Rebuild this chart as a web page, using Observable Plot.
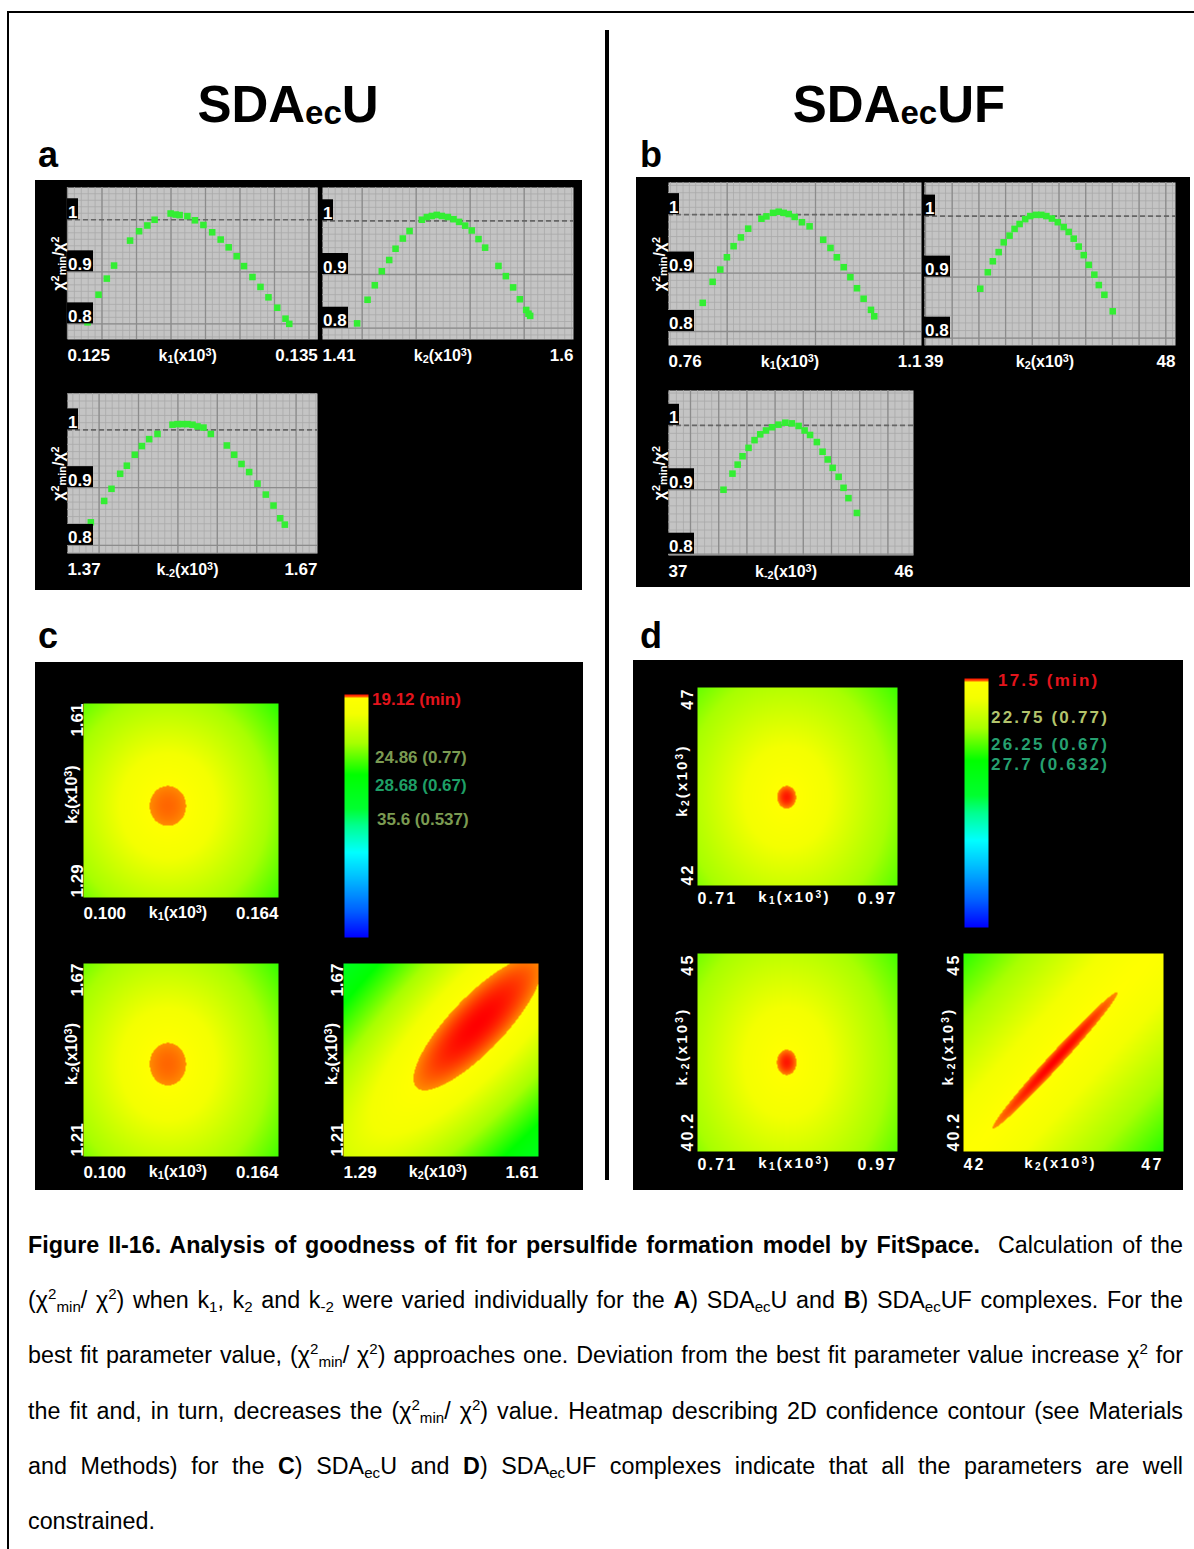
<!DOCTYPE html>
<html>
<head>
<meta charset="utf-8">
<script src="https://cdn.jsdelivr.net/npm/d3@7"></script>
<script src="https://cdn.jsdelivr.net/npm/@observablehq/plot@0.6"></script>
<style>
  html, body { margin: 0; padding: 0; background: #fff; }
  #fig { position: relative; width: 1194px; height: 1549px; overflow: hidden; background: #fff;
         font-family: "Liberation Sans", Arial, Helvetica, sans-serif; }
  .abs { position: absolute; }
  .panel { position: absolute; background: #000; }
  .title { position: absolute; font-weight: bold; font-size: 51px; line-height: 51px; text-align: center; width: 400px; color: #000; }
  .title .ec { font-size: 33px; position: relative; top: 2px; }
  .plabel { position: absolute; font-weight: bold; font-size: 36px; line-height: 36px; color: #000; }
  .cbl { position: absolute; font-weight: bold; font-size: 17px; line-height: 20px; white-space: nowrap; }
  .capline { position: absolute; left: 28px; width: 1155px; height: 55px; font-size: 23.3px; line-height: 55px;
             text-align: justify; text-align-last: justify; color: #000; }
  .capline.last { text-align-last: left; }
  .capline sup, .capline sub { font-size: 0.65em; line-height: 0; }
  .capline sup { vertical-align: 0.6em; }
  .capline sub { vertical-align: -0.25em; }
</style>
</head>
<body>
<div id="fig"></div>
<script>
// ---------------- DATA ----------------
// Panel a (SDAecU): chi2min/chi2 when each rate constant is varied
const aK1X = [0.12580,0.12624,0.12657,0.12686,0.12750,0.12786,0.12819,0.12848,0.12912,0.12932,0.12948,0.12979,0.13009,0.13043,0.13078,0.13112,0.13144,0.13176,0.13205,0.13239,0.13271,0.13303,0.13338,0.13371,0.13386];
const aK1Y = [0.803,0.856,0.887,0.912,0.960,0.978,0.989,1.000,1.012,1.010,1.009,1.007,0.999,0.990,0.976,0.962,0.947,0.930,0.911,0.890,0.871,0.851,0.831,0.810,0.800];
const aK2X = [1.4362,1.4441,1.4496,1.4549,1.4605,1.4653,1.4708,1.4759,1.4852,1.4890,1.4928,1.4965,1.5003,1.5049,1.5092,1.5134,1.5180,1.5230,1.5281,1.5331,1.5432,1.5488,1.5543,1.5594,1.5642,1.5659,1.5672];
const aK2Y = [0.809,0.853,0.880,0.906,0.927,0.948,0.967,0.981,1.002,1.007,1.009,1.011,1.009,1.007,1.003,0.998,0.991,0.982,0.966,0.950,0.916,0.897,0.876,0.854,0.834,0.827,0.823];
const aKm2X = [1.398,1.414,1.4228,1.4332,1.4412,1.4508,1.4592,1.468,1.478,1.496,1.502,1.508,1.514,1.520,1.526,1.5332,1.542,1.5612,1.570,1.5788,1.588,1.598,1.608,1.6172,1.6252,1.6308];
const aKm2Y = [0.840,0.877,0.898,0.924,0.938,0.957,0.972,0.984,0.993,1.009,1.010,1.010,1.010,1.009,1.006,1.004,0.993,0.973,0.957,0.941,0.927,0.907,0.888,0.869,0.847,0.836];
// Panel b (SDAecUF)
const bK1X = [0.8060,0.8193,0.8296,0.8385,0.8475,0.8573,0.8671,0.8849,0.8916,0.9005,0.9081,0.9148,0.9215,0.9295,0.9393,0.9496,0.9679,0.9777,0.9862,0.9955,1.0044,1.0133,1.0222,1.0321,1.0365];
const bK1Y = [0.849,0.885,0.906,0.927,0.946,0.961,0.976,0.993,0.997,1.003,1.005,1.003,1.001,0.996,0.987,0.980,0.957,0.943,0.927,0.910,0.893,0.874,0.856,0.837,0.826];
const bK2X = [41.00,41.27,41.45,41.66,41.84,42.05,42.23,42.41,42.61,42.79,43.00,43.19,43.37,43.57,43.78,43.99,44.17,44.35,44.53,44.71,44.89,45.09,45.25,45.45,45.75];
const bK2Y = [0.881,0.908,0.926,0.941,0.957,0.968,0.979,0.987,0.995,1.000,1.002,1.002,1.000,0.996,0.990,0.982,0.974,0.963,0.950,0.936,0.920,0.904,0.887,0.871,0.844];
const bKm2X = [39.02,39.35,39.54,39.72,39.94,40.16,40.37,40.58,40.80,41.04,41.29,41.53,41.78,42.00,42.20,42.45,42.66,42.85,43.03,43.25,43.43,43.61,43.92];
const bKm2Y = [0.900,0.925,0.939,0.952,0.965,0.977,0.986,0.992,0.997,1.001,1.004,1.003,0.999,0.992,0.985,0.974,0.959,0.947,0.934,0.920,0.903,0.887,0.864];

const aTickX = [["0.125","0.135"],["1.41","1.6"],["1.37","1.67"]];
const bTickX = [["0.76","1.1"],["39","48"],["37","46"]];
const curveYTicks = ["1","0.9","0.8"];
const curveXLabels = ["k_{1}(x10^{3})","k_{2}(x10^{3})","k_{-2}(x10^{3})"];
const curveYLabel = "χ^{2}_{min}/χ^{2}";

// Panels c, d: 2D confidence heatmaps (c1,c2,c3,d1,d2,d3)
const heatXTicks = [["0.100","0.164"],["0.100","0.164"],["1.29","1.61"],["0.71","0.97"],["0.71","0.97"],["42","47"]];
const heatYTicks = [["1.29","1.61"],["1.21","1.67"],["1.21","1.67"],["42","47"],["40.2","45"],["40.2","45"]];
const heatXLabel = ["k_{1}(x10^{3})","k_{1}(x10^{3})","k_{2}(x10^{3})","k_{1}(x10^{3})","k_{1}(x10^{3})","k_{2}(x10^{3})"];
const heatYLabel = ["k_{2}(x10^{3})","k_{-2}(x10^{3})","k_{-2}(x10^{3})","k_{2}(x10^{3})","k_{-2}(x10^{3})","k_{-2}(x10^{3})"];
const heatBestX = [0.1277, 0.1277, 1.510, 0.826, 0.826, 44.29];   // best-fit (minimum) location
const heatBestY = [1.441, 1.430, 1.526, 44.23, 42.36, 42.41];
const heatAxisA = [0.093, 0.093, 0.454, 0.047, 0.049, 0.462];    // contour half-axes (fraction of range)
const heatAxisB = [0.103, 0.110, 0.140, 0.057, 0.064, 0.035];
const heatAngle = [0, 0, 46.6, 0, 0, 47.8];                       // contour tilt (degrees)
const heatCore = [0.0095, 0.0095, 0.0, 0.002, 0.002, 0.0];        // 1 - chi2min/chi2 at the minimum
const heatFalloff = [0.041, 0.041, 0.10, 0.019, 0.020, 0.015];     // rise of 1 - chi2min/chi2 per contour radius

const cBarLabels = ["19.12 (min)", "24.86 (0.77)", "28.68 (0.67)", "35.6 (0.537)"];
const dBarLabels = ["17.5 (min)", "22.75 (0.77)", "26.25 (0.67)", "27.7 (0.632)"];

// ---------------- STYLE ----------------
const FONT = '"Liberation Sans", Arial, Helvetica, sans-serif';
const EDGE = 0.013;  // colour fraction where the contour edge sits
const heatStops  = [0, 0.11, 0.25, 0.35, 0.46, 0.53, 0.67, 0.80, 0.92, 1 - EDGE - 0.0001, 1 - EDGE, 1];
const heatColors = ["#0000ff","#0060ff","#00c0ff","#00ffff","#00ff90","#00ff30","#00ff00","#a8ff00","#f4ff00","#ffff00","#ff8c00","#ff0000"];
const colorScale = {type: "linear", domain: heatStops, range: heatColors, interpolate: "rgb"};

const fig = document.getElementById("fig");
function place(el, left, top) {
  el.style.position = "absolute";
  el.style.left = left + "px";
  el.style.top = top + "px";
  fig.appendChild(el);
  return el;
}
function div(cls, html, css) {
  const d = document.createElement("div");
  if (cls) d.className = cls;
  d.innerHTML = html;
  Object.assign(d.style, css || {});
  fig.appendChild(d);
  return d;
}
// converts ^{..} and _{..} markers into SVG tspans
function richify(root) {
  root.querySelectorAll("text, tspan").forEach(el => {
    if (el.children.length) return;
    const s = el.textContent;
    if (!/[\^_]\{/.test(s)) return;
    el.textContent = "";
    const re = /([\^_])\{([^}]*)\}|([^\^_]+)/g;
    let m;
    while ((m = re.exec(s))) {
      const t = document.createElementNS("http://www.w3.org/2000/svg", "tspan");
      if (m[1]) {
        t.textContent = m[2];
        t.setAttribute("font-size", "68%");
        t.setAttribute("baseline-shift", m[1] === "^" ? "45%" : "-15%");
      } else t.textContent = m[3];
      el.appendChild(t);
    }
  });
  return root;
}

// ---------------- FRAME / TITLES ----------------
div("abs", "", {left: "7px", top: "11px", width: "1195px", height: "1550px", border: "2px solid #000", boxSizing: "border-box"});
div("abs", "", {left: "605px", top: "30px", width: "4px", height: "1150px", background: "#000"});
div("title", 'SDA<span class="ec">ec</span>U', {left: "88px", top: "79px"});
div("title", 'SDA<span class="ec">ec</span>UF', {left: "699px", top: "79px"});
div("plabel", "a", {left: "38px", top: "137px"});
div("plabel", "b", {left: "640px", top: "137px"});
div("plabel", "c", {left: "38px", top: "618px"});
div("plabel", "d", {left: "640px", top: "618px"});
div("panel", "", {left: "35px", top: "180px", width: "547px", height: "410px"});
div("panel", "", {left: "636px", top: "177px", width: "554px", height: "410px"});
div("panel", "", {left: "35px", top: "662px", width: "548px", height: "528px"});
div("panel", "", {left: "633px", top: "660px", width: "550px", height: "530px"});

// ---------------- CURVE PLOTS (a, b) ----------------
function curvePlot(xs, ys, xTicks, xLabel, yDomain, gw, gh, grid, showYLabel) {
  const xd = xTicks.map(Number);
  const span = xd[1] - xd[0];
  const toX = px => xd[0] + px / gw * span;
  const sStep = grid.step / grid.div;
  const majors = [], minors = [], yMinor = [];
  for (let px = grid.phase % grid.step; px <= gw + 0.5; px += grid.step) majors.push(toX(px));
  for (let px = grid.phase % sStep; px <= gw + 0.5; px += sStep) minors.push(toX(px));
  for (let v = 0.8 - 0.0125 * Math.floor((0.8 - yDomain[0]) / 0.0125); v <= yDomain[1]; v += 0.0125) yMinor.push(v);
  const ySpan = yDomain[1] - yDomain[0];
  const boxH = 21 / gh * ySpan;
  const boxW = s => (s.length > 1 ? 26 : 11) / gw * span;
  const mL = 26, mR = 2, mT = 2, mB = 30;
  const txt = {fill: "white", fontSize: 17, fontWeight: "bold"};
  const svg = Plot.plot({
    width: gw + mL + mR, height: gh + mT + mB,
    marginLeft: mL, marginRight: mR, marginTop: mT, marginBottom: mB,
    style: {background: "transparent", fontFamily: FONT, overflow: "visible"},
    x: {domain: xd, axis: null},
    y: {domain: yDomain, axis: null},
    marks: [
      Plot.frame({fill: "#c4c4c4", stroke: "none"}),
      Plot.ruleX(minors, {stroke: "#a9a9a9", strokeWidth: 0.8}),
      Plot.ruleY(yMinor, {stroke: "#a9a9a9", strokeWidth: 0.8}),
      Plot.ruleX(majors, {stroke: "#8c8c8c", strokeWidth: 1.3}),
      Plot.ruleY([0.8, 0.9], {stroke: "#8c8c8c", strokeWidth: 1.3}),
      Plot.ruleY([1], {stroke: "#666666", strokeWidth: 1.7, strokeDasharray: "5,3"}),
      Plot.dot(xs, {x: xs, y: ys, symbol: "square", r: 3.7, fill: "#33ee33", stroke: "none"}),
      Plot.rect(curveYTicks, {x1: () => xd[0], x2: s => xd[0] + boxW(s), y1: s => +s, y2: s => +s + boxH, fill: "black"}),
      Plot.text(curveYTicks, {x: () => xd[0], y: s => +s, text: s => s, textAnchor: "start", lineAnchor: "bottom", dx: 0.5, dy: -2, ...txt}),
      Plot.text([xTicks[0]], {x: s => +s, frameAnchor: "bottom", text: s => s, textAnchor: "start", lineAnchor: "middle", dy: 16, ...txt}),
      Plot.text([xTicks[1]], {x: s => +s, frameAnchor: "bottom", text: s => s, textAnchor: "end", lineAnchor: "middle", dy: 16, ...txt}),
      Plot.text([xLabel], {frameAnchor: "bottom", text: d => d, textAnchor: "middle", lineAnchor: "middle", dy: 16, dx: -5, ...txt, fontSize: 16}),
      showYLabel ? Plot.text([curveYLabel], {frameAnchor: "left", text: d => d, rotate: -90, textAnchor: "middle", lineAnchor: "middle", dx: -9, ...txt, fontSize: 16}) : null
    ]
  });
  return {svg: richify(svg), mL, mT};
}

const curves = [
  {xs: aK1X, ys: aK1Y, ticks: aTickX[0], lab: curveXLabels[0], yd: [0.770, 1.062], g: [66.7, 187, 250.3, 152], grid: {step: 34.5, phase: 0, div: 5}, yl: true},
  {xs: aK2X, ys: aK2Y, ticks: aTickX[1], lab: curveXLabels[1], yd: [0.779, 1.062], g: [322, 187, 251, 152], grid: {step: 54, phase: 39.7, div: 8}, yl: false},
  {xs: aKm2X, ys: aKm2Y, ticks: aTickX[2], lab: curveXLabels[2], yd: [0.786, 1.063], g: [66.7, 393, 250, 160], grid: {step: 39.4, phase: 31.6, div: 6}, yl: true},
  {xs: bK1X, ys: bK1Y, ticks: bTickX[0], lab: curveXLabels[0], yd: [0.776, 1.055], g: [668, 182, 253, 163], grid: {step: 88.3, phase: 58.7, div: 14}, yl: true},
  {xs: bK2X, ys: bK2Y, ticks: bTickX[1], lab: curveXLabels[1], yd: [0.788, 1.055], g: [924, 182, 251, 163], grid: {step: 26.7, phase: 1, div: 4}, yl: false},
  {xs: bKm2X, ys: bKm2Y, ticks: bTickX[2], lab: curveXLabels[2], yd: [0.798, 1.054], g: [668, 390, 245, 165], grid: {step: 28.2, phase: 22, div: 4}, yl: true}
];
for (const c of curves) {
  const {svg, mL, mT} = curvePlot(c.xs, c.ys, c.ticks, c.lab, c.yd, c.g[2], c.g[3], c.grid, c.yl);
  place(svg, c.g[0] - mL, c.g[1] - mT);
}

// ---------------- HEATMAPS (c, d) ----------------
function heatRatio(i, x, y) {
  const xd = heatXTicks[i].map(Number), yd = heatYTicks[i].map(Number);
  const u = (x - xd[0]) / (xd[1] - xd[0]), w = (y - yd[0]) / (yd[1] - yd[0]);
  const uc = (heatBestX[i] - xd[0]) / (xd[1] - xd[0]), wc = (heatBestY[i] - yd[0]) / (yd[1] - yd[0]);
  const t = heatAngle[i] * Math.PI / 180;
  const du = u - uc, dw = w - wc;
  const p = du * Math.cos(t) + dw * Math.sin(t);
  const q = -du * Math.sin(t) + dw * Math.cos(t);
  const r = Math.hypot(p / heatAxisA[i], q / heatAxisB[i]);
  const f = r < 1 ? heatCore[i] + (EDGE - heatCore[i]) * r * r : EDGE + heatFalloff[i] * (r - 1);
  return 1 - Math.min(f, 1);
}
function heatPlot(i, w, h, spaced) {
  const xd = heatXTicks[i].map(Number), yd = heatYTicks[i].map(Number);
  const mL = 32, mR = 10, mT = 2, mB = 28;
  const fs = spaced ? 16 : 17;
  const txt = {fill: "white", fontSize: fs, fontWeight: "bold"};
  const tdx = spaced ? -10 : -6, ldx = spaced ? -15 : -12, xdy = spaced ? 13 : 16;
  const svg = Plot.plot({
    width: w + mL + mR, height: h + mT + mB,
    marginLeft: mL, marginRight: mR, marginTop: mT, marginBottom: mB,
    style: {background: "transparent", fontFamily: FONT, overflow: "visible", letterSpacing: spaced ? "2.2px" : "0px"},
    x: {domain: xd, axis: null},
    y: {domain: yd, axis: null},
    color: colorScale,
    marks: [
      Plot.raster({fill: (x, y) => heatRatio(i, x, y), x1: xd[0], x2: xd[1], y1: yd[0], y2: yd[1]}),
      Plot.text([heatXTicks[i][0]], {x: s => +s, frameAnchor: "bottom", text: s => s, textAnchor: "start", lineAnchor: "middle", dy: xdy, ...txt}),
      Plot.text([heatXTicks[i][1]], {x: s => +s, frameAnchor: "bottom", text: s => s, textAnchor: "end", lineAnchor: "middle", dy: xdy, ...txt}),
      Plot.text([heatXLabel[i]], {frameAnchor: "bottom", text: d => d, textAnchor: "middle", lineAnchor: "middle", dy: xdy - 1, dx: -3, ...txt, fontSize: fs - 1}),
      Plot.text([heatYTicks[i][0]], {y: s => +s, frameAnchor: "left", text: s => s, rotate: -90, textAnchor: "start", lineAnchor: "middle", dx: tdx, ...txt}),
      Plot.text([heatYTicks[i][1]], {y: s => +s, frameAnchor: "left", text: s => s, rotate: -90, textAnchor: "end", lineAnchor: "middle", dx: tdx, ...txt}),
      Plot.text([heatYLabel[i]], {frameAnchor: "left", text: d => d, rotate: -90, textAnchor: "middle", lineAnchor: "middle", dx: ldx, dy: -6, ...txt, fontSize: fs - 1})
    ]
  });
  return {svg: richify(svg), mL, mT};
}
const heatBoxes = [[83, 703, 195, 194, false], [83, 963, 195, 193, false], [343, 963, 195, 193, false],
                   [697, 687, 200, 198, true], [697, 953, 200, 198, true], [963, 953, 200, 198, true]];
heatBoxes.forEach((b, i) => {
  const {svg, mL, mT} = heatPlot(i, b[2], b[3], b[4]);
  place(svg, b[0] - mL, b[1] - mT);
});

// colour bars
function colorBar(w, h) {
  return Plot.plot({
    width: w, height: h, margin: 0,
    style: {background: "transparent", overflow: "visible"},
    x: {domain: [0, 1], axis: null},
    y: {domain: [0, 1], axis: null},
    color: colorScale,
    marks: [Plot.raster({fill: (x, y) => y, x1: 0, x2: 1, y1: 0, y2: 1})]
  });
}
place(colorBar(24, 243), 343.5, 694);
place(colorBar(24, 249), 964, 678);

// colour-bar annotations
const cLab = [[372, 700, "#e3141c"], [375, 758, "#7b9b52"], [375, 786, "#1e9f66"], [377, 820, "#7b9b52"]];
cBarLabels.forEach((s, i) => div("cbl", s, {left: cLab[i][0] + "px", top: (cLab[i][1] - 10) + "px", color: cLab[i][2]}));
const dLab = [[998, 681, "#e3141c"], [991, 718, "#b3c46c"], [991, 745, "#26a070"], [991, 765, "#26a070"]];
dBarLabels.forEach((s, i) => div("cbl", s, {left: dLab[i][0] + "px", top: (dLab[i][1] - 10) + "px", color: dLab[i][2], letterSpacing: "2.2px"}));

// ---------------- CAPTION ----------------
const X2 = 'χ<sup>2</sup>', X2MIN = 'χ<sup>2</sup><sub>min</sub>', EC = 'SDA<sub>ec</sub>';
const captionLines = [
  '<b>Figure II-16. Analysis of goodness of fit for persulfide formation model by FitSpace.</b>&nbsp; Calculation of the',
  `(${X2MIN}/ ${X2}) when k<sub>1</sub>, k<sub>2</sub> and k<sub>-2</sub> were varied individually for the <b>A</b>) ${EC}U and <b>B</b>) ${EC}UF complexes. For the`,
  `best fit parameter value, (${X2MIN}/ ${X2}) approaches one. Deviation from the best fit parameter value increase ${X2} for`,
  `the fit and, in turn, decreases the (${X2MIN}/ ${X2}) value. Heatmap describing 2D confidence contour (see Materials`,
  `and Methods) for the <b>C</b>) ${EC}U and <b>D</b>) ${EC}UF complexes indicate that all the parameters are well`,
  'constrained.'
];
captionLines.forEach((html, i) => {
  div("capline" + (i === captionLines.length - 1 ? " last" : ""), html, {top: (1218 + i * 55.2) + "px"});
});
</script>
</body>
</html>
